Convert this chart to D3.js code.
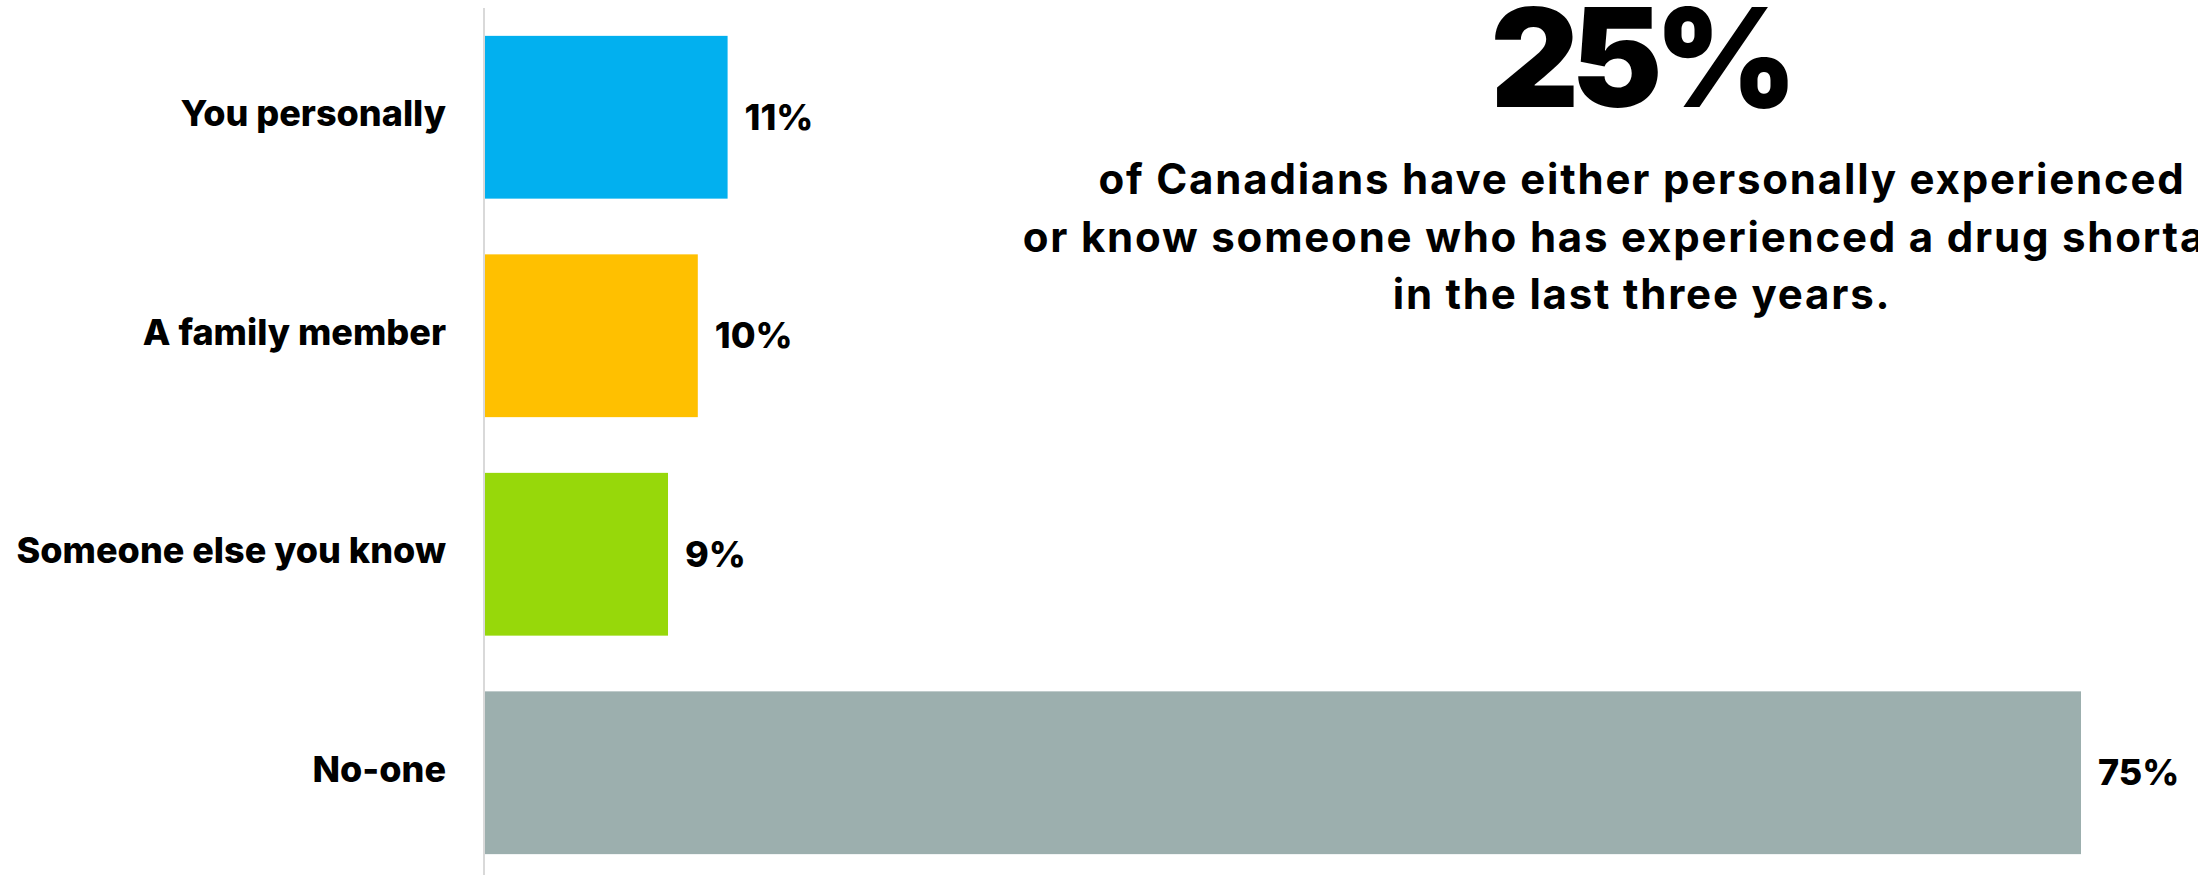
<!DOCTYPE html>
<html>
<head>
<meta charset="utf-8">
<script src="https://cdn.jsdelivr.net/npm/d3@7"></script>
<style>
  html, body { margin: 0; padding: 0; background: #ffffff; overflow: hidden; }
  svg { display: block; }
  text { font-family: "Inter", "Open Sans", sans-serif; fill: #000; }
</style>
</head>
<body>
<script>
// ---- data ----
const categories = ["You personally", "A family member", "Someone else you know", "No-one"];
const values = [11.4, 10.0, 8.6, 75.0];
const colors = ["#02B0EF", "#FFC000", "#97D80A", "#9CAFAE"];
const headline = "25%";
const subtitleLines = [
  "of Canadians have either personally experienced",
  "or know someone who has experienced a drug shortage",
  "in the last three years."
];

// ---- layout ----
const W = 2198, H = 875;
const svg = d3.select("body").append("svg").attr("width", W).attr("height", H);

const x = d3.scaleLinear().domain([0, 75]).range([485, 2081]);
const y = d3.scaleBand().domain(categories).range([8, 882])
  .paddingInner(0.255).paddingOuter(0.1275);

// bars
svg.append("g").selectAll("rect").data(categories).join("rect")
  .attr("x", x(0))
  .attr("y", d => y(d))
  .attr("width", (d, i) => x(values[i]) - x(0))
  .attr("height", y.bandwidth())
  .attr("fill", (d, i) => colors[i]);

// axis (category labels, line)
const yAxis = d3.axisLeft(y).tickSize(0).tickPadding(38);
const ag = svg.append("g").attr("transform", `translate(${x(0) - 1},0)`).call(yAxis);
ag.select(".domain").attr("stroke", "#d9d9d9").attr("stroke-width", 2)
  .attr("d", `M0,8V${H}`);
ag.selectAll(".tick text")
  .attr("dy", null)
  .attr("y", 9)
  .style("font-family", "Inter, 'Open Sans', sans-serif")
  .style("font-size", "36px")
  .style("font-weight", 800)
  .attr("fill", "#000");

// value labels
const fmt = d3.format(".0f");
svg.append("g").selectAll("text").data(categories).join("text")
  .attr("x", (d, i) => x(values[i]) + 17)
  .attr("y", d => y(d) + y.bandwidth() / 2 + 12.5)
  .style("font-size", "36px")
  .style("font-weight", 800)
  .text((d, i) => fmt(values[i]) + "%");

// headline
svg.append("text")
  .attr("x", 1640).attr("y", 107)
  .attr("text-anchor", "middle")
  .style("font-size", "137px")
  .style("font-weight", 900)
  .style("letter-spacing", "-8px")
  .text(headline);

// subtitle
svg.append("g").selectAll("text").data(subtitleLines).join("text")
  .attr("x", 1642)
  .attr("y", (d, i) => 194 + i * 57.5)
  .attr("text-anchor", "middle")
  .style("font-size", "42px")
  .style("font-weight", 700)
  .style("letter-spacing", "1.8px")
  .text(d => d);
</script>
</body>
</html>
